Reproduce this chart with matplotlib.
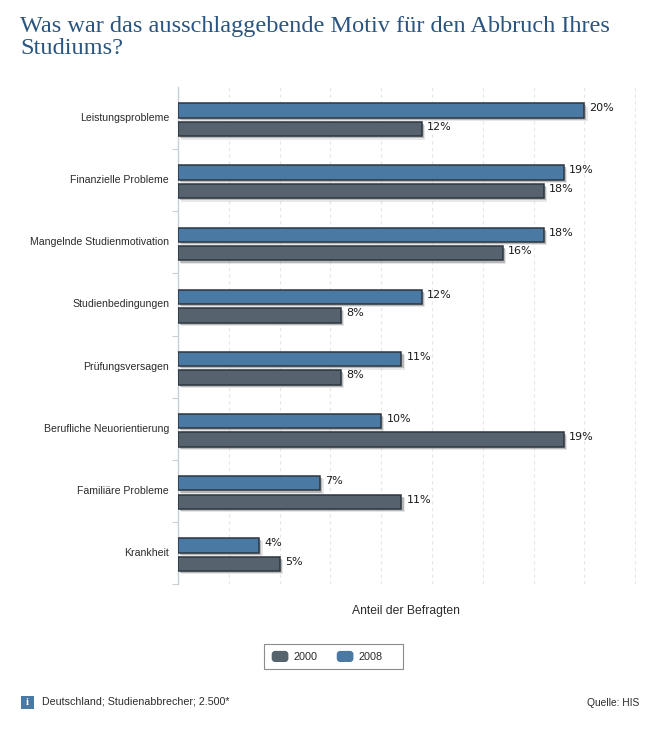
import numpy as np
import matplotlib
matplotlib.use("Agg")
import matplotlib.pyplot as plt
import matplotlib.patheffects as pe
from matplotlib.patches import FancyBboxPatch, Rectangle, Patch
from matplotlib.legend_handler import HandlerPatch
from matplotlib.transforms import ScaledTranslation

categories = ["Leistungsprobleme", "Finanzielle Probleme", "Mangelnde Studienmotivation",
              "Studienbedingungen", "Prüfungsversagen", "Berufliche Neuorientierung",
              "Familiäre Probleme", "Krankheit"]
values_2008 = [20, 19, 18, 12, 11, 10, 7, 4]
values_2000 = [12, 18, 16, 8, 8, 19, 11, 5]
title_lines = ["Was war das ausschlaggebende Motiv für den Abbruch Ihres", "Studiums?"]
xlabel = "Anteil der Befragten"
info = "Deutschland; Studienabbrecher; 2.500*"
source = "Quelle: HIS"

W, H = 662, 735
BLUE, DARK, EDGE = "#4a7aa4", "#56636f", "#2c3640"
TXT = "#2b2b2b"
plt.rcParams["font.family"] = ["Liberation Sans", "DejaVu Sans"]

fig = plt.figure(figsize=(W / 100, H / 100), dpi=100, facecolor="white")
L, R, T, B = 178, 635.5, 87, 584
ax = fig.add_axes([L / W, 1 - B / H, (R - L) / W, (B - T) / H])
ax.set_xlim(0, 22.52)
ax.set_ylim(8, 0)

y = np.arange(len(categories)) + 0.5
h = 0.232
shadow = [pe.SimplePatchShadow(offset=(2.4, -2.4), shadow_rgbFace="#bbbbbb", alpha=0.35),
          pe.SimplePatchShadow(offset=(1.5, -1.5), shadow_rgbFace="#888888", alpha=0.5),
          pe.Normal()]
ax.barh(y - 0.122, values_2008, height=h, color=BLUE, edgecolor=EDGE, linewidth=1.1, zorder=3, path_effects=shadow)
ax.barh(y + 0.176, values_2000, height=h, color=DARK, edgecolor=EDGE, linewidth=1.1, zorder=3, path_effects=shadow)

for offs, vals in ((-0.122, values_2008), (0.176, values_2000)):
    for yy, v in zip(y + offs, vals):
        ax.annotate(f"{v}%", (v, yy), xytext=(3.8, 1.6), textcoords="offset points", va="center", ha="left",
                    fontsize=8, color="#1a1a1a", zorder=5, fontfamily="DejaVu Sans")

ax.set_xticks(np.arange(2.5, 22.6, 2.5))
ax.tick_params(axis="x", length=0, labelbottom=False)
ax.grid(axis="x", linestyle=(0, (3, 3)), color="#e6e6e6", linewidth=0.8, zorder=0)
ax.set_yticks(y)
ax.set_yticklabels(categories, fontsize=7.6, color=TXT)
ax.tick_params(axis="y", which="major", length=0, pad=6.4)
for lbl in ax.get_yticklabels():
    lbl.set_transform(lbl.get_transform() + ScaledTranslation(0, 1 / 100, fig.dpi_scale_trans))
ax.set_yticks(np.arange(1, 9), minor=True)
ax.tick_params(axis="y", which="minor", length=4.3, width=0.8, color="#c5d0da")
for s in ["top", "right", "bottom"]:
    ax.spines[s].set_visible(False)
ax.spines["left"].set_color("#c5d0da")
ax.spines["left"].set_linewidth(1.0)

for line, py in zip(title_lines, (32, 54)):
    fig.text(20 / W, 1 - py / H, line, fontsize=17.5, color="#2a5580", family="Liberation Serif",
             va="baseline", ha="left")
fig.text(405.5 / W, 1 - 611 / H, xlabel, fontsize=8.7, color=TXT, ha="center", va="center")


def rounded(legend, orig_handle, xdescent, ydescent, width, height, fontsize):
    return FancyBboxPatch((-xdescent + 1, -ydescent + 0.5), width - 2, height - 1,
                          boxstyle="round,pad=0,rounding_size=2")


fig.add_artist(Rectangle((263.5 / W, 1 - 669 / H), 139 / W, 25 / H, transform=fig.transFigure,
                         facecolor="white", edgecolor="#8c8c8c", linewidth=0.8))
handles = [Patch(facecolor=DARK, edgecolor=DARK, label="2000"),
           Patch(facecolor=BLUE, edgecolor=BLUE, label="2008")]
leg = fig.legend(handles=handles, loc="center left", bbox_to_anchor=(271 / W, 1 - 656.5 / H), ncol=2,
                 fontsize=7.8, frameon=False, handlelength=1.67, handleheight=1.2, columnspacing=1.75,
                 handletextpad=0.37, borderpad=0, borderaxespad=0, labelcolor=TXT,
                 handler_map={Patch: HandlerPatch(patch_func=rounded)})

fig.add_artist(Rectangle((21 / W, 1 - 709 / H), 13 / W, 13 / H, transform=fig.transFigure,
                         facecolor=BLUE, edgecolor="none"))
fig.text(27.5 / W, 1 - 702.5 / H, "i", color="white", fontsize=7.5, family="Liberation Serif",
         weight="bold", ha="center", va="center")
fig.text(42 / W, 1 - 705 / H, info, fontsize=7.7, color=TXT, ha="left", va="baseline")
fig.text(639 / W, 1 - 705.5 / H, source, fontsize=7.4, color=TXT, ha="right", va="baseline")

fig.savefig("out.png", dpi=100, facecolor="white")
